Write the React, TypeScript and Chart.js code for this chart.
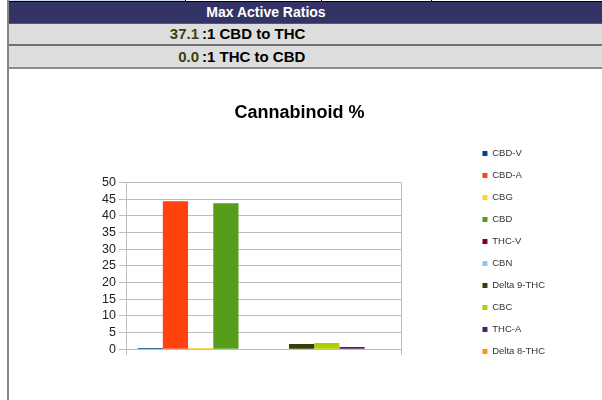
import React, { useEffect, useRef } from 'react';
import { Chart, registerables } from 'chart.js';

Chart.register(...registerables);

const categories = [''];
const seriesNames = ['CBD-V', 'CBD-A', 'CBG', 'CBD', 'THC-V', 'CBN', 'Delta 9-THC', 'CBC', 'THC-A', 'Delta 8-THC'];
const seriesValues = [0.4, 44.4, 0.4, 43.8, 0, 0, 1.6, 1.9, 0.7, 0];
const seriesColors = ['#004586', '#ff420e', '#ffd320', '#579d1c', '#7e0021', '#83caff', '#314004', '#aecf00', '#4b1f6f', '#ff950e'];
const yMin = 0;
const yMax = 50;
const yStep = 5;
const chartTitle = 'Cannabinoid %';
const headerTitle = 'Max Active Ratios';
const ratioValues = ['37.1', '0.0'];
const ratioLabels = [':1 CBD to THC', ':1 THC to CBD'];

const FONT = '"Liberation Sans", Arial, sans-serif';
const GRID = '#bdbdbd';

export default function App() {
  const ref = useRef<HTMLCanvasElement | null>(null);

  useEffect(() => {
    if (!ref.current) return;
    const chart = new Chart(ref.current, {
      type: 'bar',
      data: {
        labels: categories,
        datasets: seriesNames.map((name, i) => ({
          label: name,
          data: [seriesValues[i]],
          backgroundColor: seriesColors[i],
          borderWidth: 0,
          categoryPercentage: 0.9158,
          barPercentage: 1,
        })),
      },
      options: {
        animation: false,
        responsive: false,
        devicePixelRatio: 1,
        layout: { padding: { left: 35, right: 47, top: 0, bottom: 3 } },
        plugins: {
          title: {
            display: true,
            text: chartTitle,
            color: '#000',
            font: { family: FONT, size: 18, weight: 'bold' },
            padding: { top: 33, bottom: 59 },
          },
          legend: {
            display: true,
            position: 'right',
            align: 'center',
            labels: {
              boxWidth: 5,
              boxHeight: 5,
              padding: 12.5,
              color: '#333',
              font: { family: FONT, size: 9.5 },
            },
          },
          tooltip: { enabled: false },
        },
        scales: {
          x: {
            grid: { color: GRID, lineWidth: 1, tickLength: 6, drawTicks: true },
            border: { color: GRID },
            ticks: { display: true },
            afterFit: (s: any) => {
              s.height = 86.7;
            },
          },
          y: {
            min: yMin,
            max: yMax,
            ticks: { stepSize: yStep, autoSkip: false, color: '#222', padding: 3, font: { family: FONT, size: 12.5 } },
            grid: { color: GRID, lineWidth: 1, tickLength: 7 },
            border: { color: GRID },
            afterFit: (s: any) => {
              s.width = 82;
            },
          },
          y2: {
            position: 'right',
            display: true,
            grid: { display: false },
            ticks: { display: false },
            border: { display: false },
            afterFit: (s: any) => {
              s.width = 68.5;
            },
          },
        },
      } as any,
    });
    return () => chart.destroy();
  }, []);

  const abs = (o: React.CSSProperties): React.CSSProperties => ({ position: 'absolute', ...o });

  return (
    <div style={abs({ left: 0, top: 0, width: 602, height: 400, overflow: 'hidden', background: '#fff', fontFamily: FONT })}>
      {/* top strip */}
      <div style={abs({ left: 8, top: 0, width: 177, height: 2, background: '#c8dcef' })} />
      <div style={abs({ left: 185, top: 0, width: 1, height: 2, background: '#000' })} />
      <div style={abs({ left: 321, top: 0, width: 1, height: 2, background: '#000' })} />
      <div style={abs({ left: 431, top: 0, width: 1, height: 2, background: '#000' })} />
      <div style={abs({ left: 8, top: 1, width: 594, height: 1, background: '#000' })} />
      {/* header */}
      <div style={abs({ left: 8, top: 2, width: 594, height: 21, background: '#333366' })} />
      <div style={abs({ left: 0, top: 2, width: 532, height: 21, lineHeight: '21px', textAlign: 'center', color: '#fff', fontWeight: 'bold', fontSize: 14 })}>
        {headerTitle}
      </div>
      <div style={abs({ left: 8, top: 23, width: 594, height: 1, background: '#5a5a5a' })} />
      {/* ratio rows */}
      {ratioValues.map((v, i) => {
        const top = i === 0 ? 24 : 46;
        const h = i === 0 ? 20 : 21;
        return (
          <React.Fragment key={i}>
            <div style={abs({ left: 8, top, width: 594, height: h, background: '#dddddd' })} />
            <div style={abs({ left: 0, top, width: 199, height: h, lineHeight: h + 'px', textAlign: 'right', color: '#3f3f12', fontWeight: 'bold', fontSize: 15 })}>
              {v}
            </div>
            <div style={abs({ left: 202, top, height: h, lineHeight: h + 'px', whiteSpace: 'nowrap', color: '#000', fontWeight: 'bold', fontSize: 15 })}>
              {ratioLabels[i]}
            </div>
          </React.Fragment>
        );
      })}
      <div style={abs({ left: 8, top: 44, width: 594, height: 2, background: '#707070' })} />
      <div style={abs({ left: 8, top: 67, width: 594, height: 2, background: '#8c8c8c' })} />
      {/* left border */}
      <div style={abs({ left: 7, top: 0, width: 2, height: 400, background: '#858585' })} />
      {/* chart */}
      <canvas ref={ref} width={593} height={370} style={abs({ left: 9, top: 69, width: 593, height: 370 })} />
    </div>
  );
}
